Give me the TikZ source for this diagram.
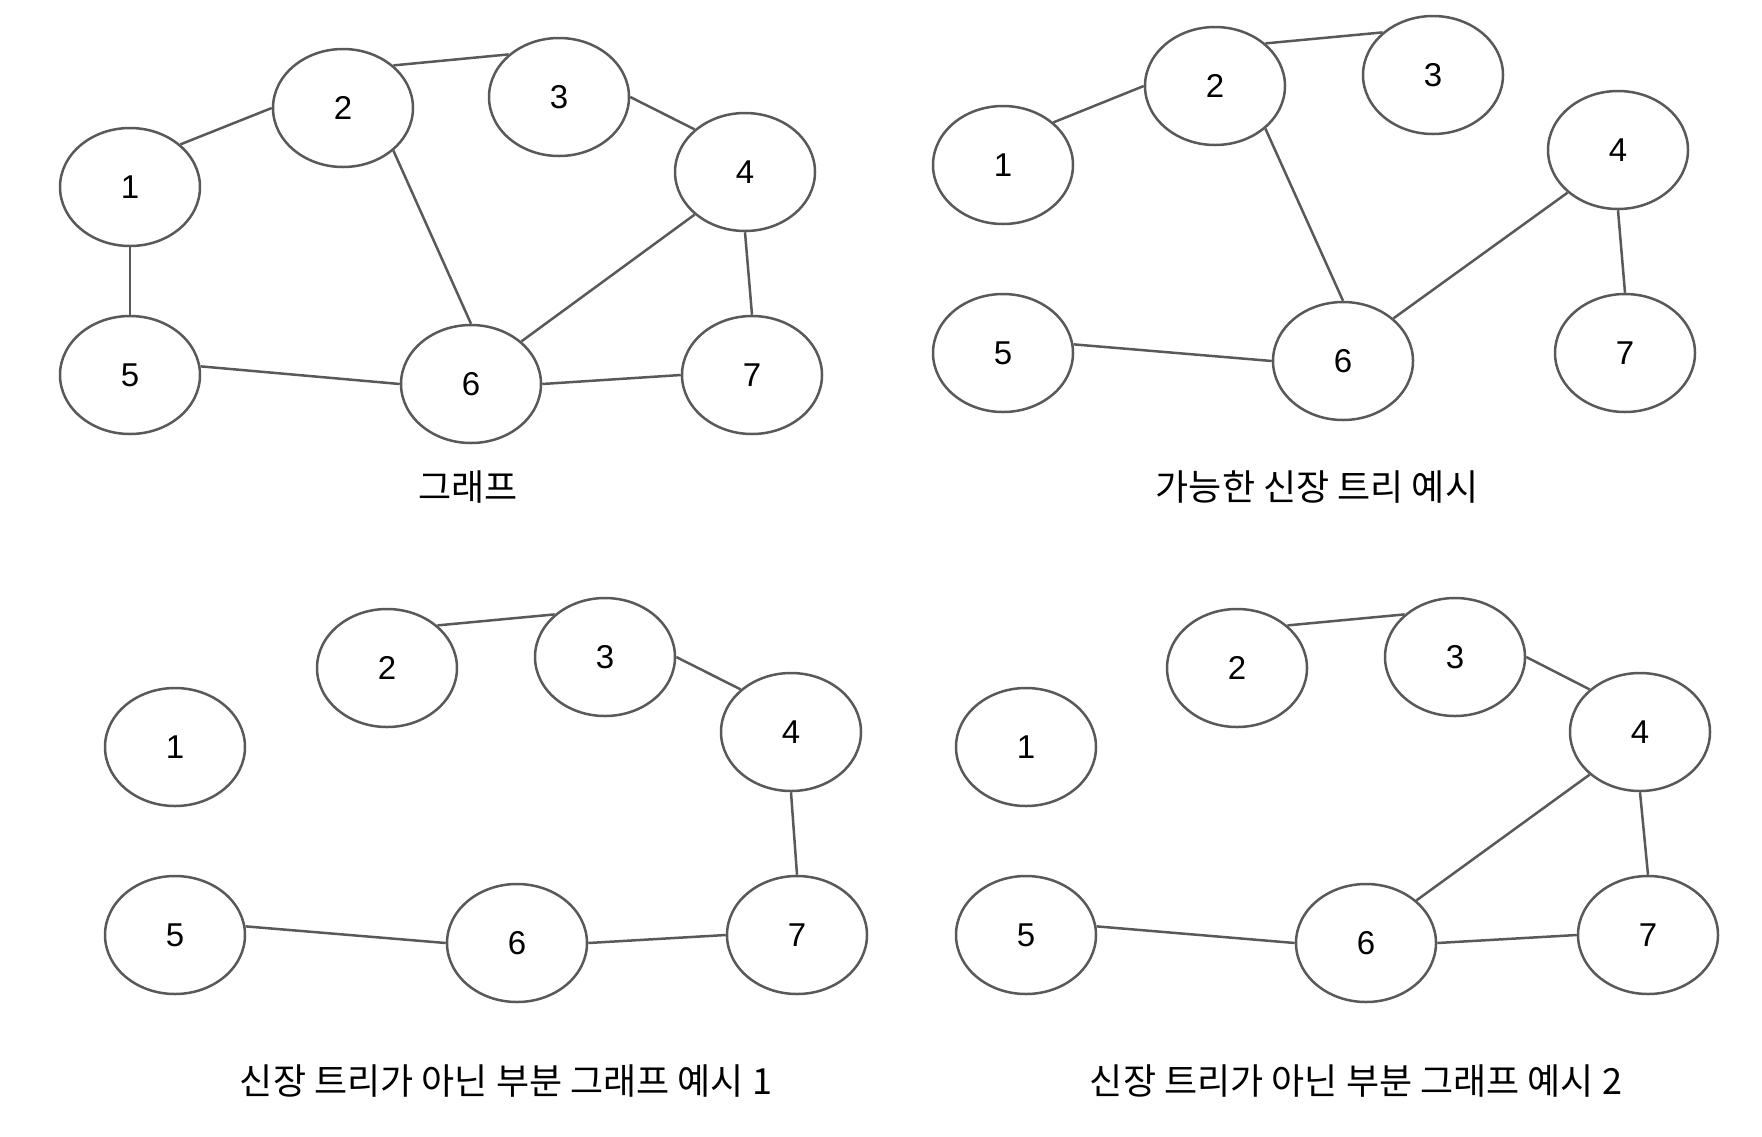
\documentclass[tikz,border=0pt]{standalone}
\usepackage{fontspec}
\setmainfont{Liberation Sans}
\newfontfamily\kr{Noto Sans CJK KR}
\usetikzlibrary{shapes.geometric}
\definecolor{linegray}{HTML}{595959}
\begin{document}
\begin{tikzpicture}[x=0.5pt,y=-0.5pt,line width=1.25pt,
  vtx/.style={ellipse,draw=linegray,minimum width=70pt,minimum height=59pt,inner sep=0pt,font=\fontsize{16.5}{20}\selectfont},
  edge/.style={draw=linegray},
  title/.style={font=\kr\fontsize{18}{22}\selectfont}]
\useasboundingbox (0,0) rectangle (1762,1136);
% graph
\foreach \i/\x/\y in {1/130/187,2/343/108,3/559/97,4/745/172,5/130/375,6/471/384,7/752/375}{\node[vtx] (g\i) at (\x,\y) {\i};};
\draw[edge] (g1.north east) -- (g2.west);
\draw[edge] (g2.north east) -- (g3.north west);
\draw[edge] (g3.east) -- (g4.north west);
\draw[edge] (g1.south) -- (g5.north);
\draw[edge] (g2.south east) -- (g6.north);
\draw[edge] (g4.south west) -- (g6.north east);
\draw[edge] (g4.south) -- (g7.north);
\draw[edge] (g5.7) -- (g6.west);
\draw[edge] (g6.east) -- (g7.west);
\node[title] (gtitle) at (468,487) {그래프};
% spanning tree
\foreach \i/\x/\y in {1/1003/165,2/1215/86,3/1433/75,4/1618/150,5/1003/353,6/1343/361,7/1625/353}{\node[vtx] (t\i) at (\x,\y) {\i};};
\draw[edge] (t1.north east) -- (t2.west);
\draw[edge] (t2.north east) -- (t3.north west);
\draw[edge] (t2.south east) -- (t6.north);
\draw[edge] (t4.south west) -- (t6.north east);
\draw[edge] (t4.south) -- (t7.north);
\draw[edge] (t5.7) -- (t6.west);
\node[title] (ttitle) at (1317,487) {가능한 신장 트리 예시};
% subgraph 1
\foreach \i/\x/\y in {1/175/747,2/387/668,3/605/657,4/791/732,5/175/935,6/517/943,7/797/935}{\node[vtx] (p\i) at (\x,\y) {\i};};
\draw[edge] (p2.north east) -- (p3.north west);
\draw[edge] (p3.east) -- (p4.north west);
\draw[edge] (p4.south) -- (p7.north);
\draw[edge] (p5.7) -- (p6.west);
\draw[edge] (p6.east) -- (p7.west);
\node[title] (ptitle) at (506,1081) {신장 트리가 아닌 부분 그래프 예시 1};
% subgraph 2
\foreach \i/\x/\y in {1/1026/747,2/1237/668,3/1455/657,4/1640/732,5/1026/935,6/1366/943,7/1648/935}{\node[vtx] (q\i) at (\x,\y) {\i};};
\draw[edge] (q2.north east) -- (q3.north west);
\draw[edge] (q3.east) -- (q4.north west);
\draw[edge] (q4.south west) -- (q6.north east);
\draw[edge] (q4.south) -- (q7.north);
\draw[edge] (q5.7) -- (q6.west);
\draw[edge] (q6.east) -- (q7.west);
\node[title] (qtitle) at (1356,1081) {신장 트리가 아닌 부분 그래프 예시 2};
\end{tikzpicture}
\end{document}
